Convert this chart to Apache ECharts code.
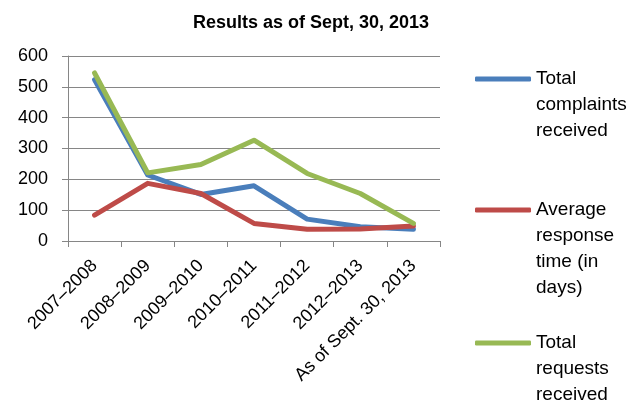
<!DOCTYPE html>
<html>
<head>
<meta charset="utf-8">
<script src="https://cdn.jsdelivr.net/npm/echarts@6/dist/echarts.min.js"></script>
<style>
html, body { margin: 0; padding: 0; background: #fff; }
#container { width: 644px; height: 401px; }
</style>
</head>
<body>
<div id="container"></div>
<script>
// data
var categories = ['2007–2008', '2008–2009', '2009–2010', '2010–2011', '2011–2012', '2012–2013', 'As of Sept. 30, 2013'];
var complaints = [523, 214, 151, 179, 71, 46, 38];
var responseDays = [84, 187, 154, 57, 38, 39, 49];
var requests = [545, 221, 248, 327, 219, 154, 57];
var seriesNames = ['Total complaints received', 'Average response time (in days)', 'Total requests received'];
var legendLabels = ['Total\ncomplaints\nreceived', 'Average\nresponse\ntime (in\ndays)', 'Total\nrequests\nreceived'];
var titleText = 'Results as of Sept, 30, 2013';

function drawChart() {
    var dom = document.getElementById('container');
    var myChart = echarts.init(dom);
    var colors = ['#4A7EBB', '#BE4B48', '#98B954'];
    var gray = '#868686';
    var LH = 26;

    // legend text is centred on its icon, so pad with empty lines above
    // to keep the first line level with the icon
    function makeLegend(i, iconY) {
        var lines = legendLabels[i].split('\n').length;
        var text = new Array(lines).join('\n') + legendLabels[i];
        return {
            data: [seriesNames[i]],
            orient: 'vertical',
            left: 475,
            top: iconY - (2 * lines - 1) * LH / 2,
            padding: 0,
            icon: 'roundRect',
            itemWidth: 56,
            itemHeight: 5,
            formatter: function () { return text; },
            textStyle: { fontSize: 19, lineHeight: LH, color: '#000' }
        };
    }

    function makeSeries(i, values) {
        return {
            name: seriesNames[i],
            type: 'line',
            data: values,
            symbol: 'none',
            lineStyle: { width: 5, color: colors[i], cap: 'round', join: 'round' },
            itemStyle: { color: colors[i] }
        };
    }

    var option = {
        animation: false,
        textStyle: { fontFamily: 'Liberation Sans' },
        color: colors,
        title: {
            text: titleText,
            left: 311,
            top: 14,
            padding: 0,
            textAlign: 'center',
            textStyle: { fontSize: 18, fontWeight: 'bold', color: '#000' }
        },
        legend: [makeLegend(0, 79), makeLegend(1, 210), makeLegend(2, 343)],
        grid: { left: 68, top: 56, width: 372, height: 185 },
        xAxis: {
            type: 'category',
            data: categories,
            boundaryGap: true,
            axisLine: { lineStyle: { color: gray, width: 1 } },
            axisTick: { show: true, length: 6, interval: 0, lineStyle: { color: gray } },
            axisLabel: { interval: 0, rotate: 45, fontSize: 18, color: '#000', margin: 22 }
        },
        yAxis: {
            type: 'value',
            min: 0,
            max: 600,
            interval: 100,
            axisLine: { show: true, lineStyle: { color: gray, width: 1 } },
            axisTick: { show: true, length: 6, lineStyle: { color: gray } },
            axisLabel: { fontSize: 18, color: '#000', margin: 20 },
            splitLine: { lineStyle: { color: gray, width: 1 } }
        },
        series: [
            makeSeries(0, complaints),
            makeSeries(1, responseDays),
            makeSeries(2, requests)
        ]
    };

    if (option && typeof option === 'object') {
        myChart.setOption(option);
    }
}
drawChart();
</script>
</body>
</html>
